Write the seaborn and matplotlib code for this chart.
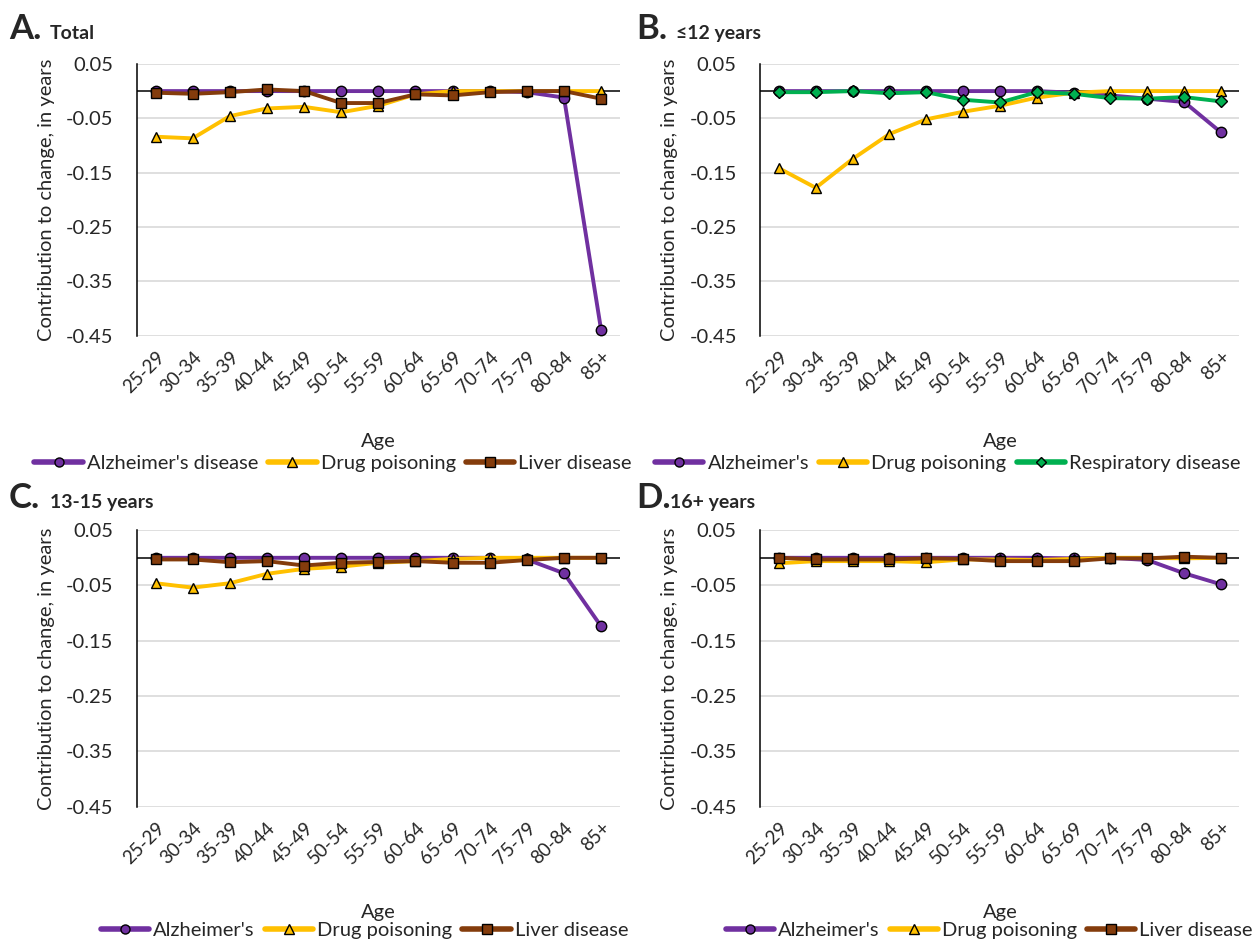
import numpy as np
import pandas as pd
import seaborn as sns
import matplotlib
matplotlib.use('Agg')
import matplotlib.pyplot as plt
from matplotlib.lines import Line2D

ages = ['25-29', '30-34', '35-39', '40-44', '45-49', '50-54', '55-59',
        '60-64', '65-69', '70-74', '75-79', '80-84', '85+']

# A. Total
a_alz = [0, 0, 0, 0, 0, 0, 0, 0, 0, 0, -0.002, -0.012, -0.44]
a_drug = [-0.084, -0.087, -0.046, -0.032, -0.029, -0.039, -0.027,
          -0.006, 0, 0, 0, 0, 0]
a_liver = [-0.003, -0.005, -0.002, 0.003, 0, -0.022, -0.022,
           -0.006, -0.008, -0.002, 0, 0, -0.014]

# B. <=12 years
b_alz = [0, 0, 0, 0, 0, 0, 0, 0, -0.003, -0.008, -0.014, -0.020, -0.076]
b_drug = [-0.142, -0.178, -0.125, -0.079, -0.052, -0.038, -0.027,
          -0.012, -0.003, 0, 0, 0, 0]
b_resp = [-0.002, -0.002, 0, -0.004, -0.002, -0.016, -0.021,
          -0.002, -0.005, -0.013, -0.014, -0.011, -0.019]

# C. 13-15 years
c_alz = [0, 0, 0, 0, 0, 0, 0, 0, 0, 0, -0.003, -0.028, -0.124]
c_drug = [-0.046, -0.054, -0.046, -0.029, -0.020, -0.016, -0.009,
          -0.006, -0.002, 0, 0, 0, 0]
c_liver = [-0.003, -0.003, -0.008, -0.006, -0.014, -0.009, -0.0075,
           -0.006, -0.009, -0.009, -0.004, 0, 0]

# D. 16+ years
d_alz = [0, 0, 0, 0, 0, 0, 0, 0, -0.001, 0, -0.004, -0.028, -0.048]
d_drug = [-0.010, -0.006, -0.006, -0.006, -0.008, -0.003, -0.003,
          -0.004, -0.002, 0, 0, -0.001, 0]
d_liver = [0, -0.003, -0.003, -0.003, -0.001, -0.002, -0.006,
           -0.006, -0.006, -0.001, -0.001, 0.002, 0]

yticks = [0.05, -0.05, -0.15, -0.25, -0.35, -0.45]

PURPLE = '#7030A0'
GOLD = '#FFC000'
BROWN = '#843C0C'
GREEN = '#00B050'

sns.set_style('white')
plt.rcParams['font.family'] = ['Lato', 'DejaVu Sans']

fig = plt.figure(figsize=(12.57, 9.40), dpi=100)

panels = [
    # letter, subtitle, rect, series, legend center, letter pos, subtitle pos
    ('A.', 'Total', [0.109, 0.643, 0.384, 0.289],
     [("Alzheimer's disease", a_alz, PURPLE, 'o'),
      ('Drug poisoning', a_drug, GOLD, '^'),
      ('Liver disease', a_liver, BROWN, 's')],
     (0.265, 0.507), (9, 39), (50, 39)),
    ('B.', '\u226412 years', [0.605, 0.643, 0.381, 0.289],
     [("Alzheimer's", b_alz, PURPLE, 'o'),
      ('Drug poisoning', b_drug, GOLD, '^'),
      ('Respiratory disease', b_resp, GREEN, 'D')],
     (0.754, 0.507), (636, 39), (676, 39)),
    ('C.', '13-15 years', [0.109, 0.142, 0.384, 0.294],
     [("Alzheimer's", c_alz, PURPLE, 'o'),
      ('Drug poisoning', c_drug, GOLD, '^'),
      ('Liver disease', c_liver, BROWN, 's')],
     (0.290, 0.010), (9, 508), (50, 508)),
    ('D.', '16+ years', [0.605, 0.142, 0.381, 0.294],
     [("Alzheimer's", d_alz, PURPLE, 'o'),
      ('Drug poisoning', d_drug, GOLD, '^'),
      ('Liver disease', d_liver, BROWN, 's')],
     (0.787, 0.010), (636, 508), (670, 508)),
]

W, H = 1257, 940

for letter, sub, rect, series, leg_xy, let_pos, sub_pos in panels:
    ax = fig.add_axes(rect)
    handles = []
    for name, vals, col, mk in series:
        df = pd.DataFrame({'Age': ages, 'val': vals})
        ms = 6 if mk == 'D' else 7.5
        sns.lineplot(data=df, x='Age', y='val', sort=False, ax=ax,
                     color=col, lw=2.8, marker=mk, markersize=ms,
                     markeredgecolor='black', markeredgewidth=1.0,
                     markerfacecolor=col)
        handles.append(Line2D([], [], color=col, lw=4, marker=mk,
                              markersize=6.5 if mk != 'D' else 5,
                              markerfacecolor=col, markeredgecolor='black',
                              markeredgewidth=1.0, label=name))
    ax.axhline(0, color='black', lw=1.1, zorder=1)
    ax.set_ylim(-0.45, 0.05)
    ax.set_xlim(-0.5, len(ages) - 0.5)
    ax.set_yticks(yticks)
    ax.set_yticklabels(['%.2f' % t for t in yticks], fontsize=14.5)
    ax.yaxis.grid(True, color='#d9d9d9', lw=1.2)
    ax.set_axisbelow(True)
    ax.tick_params(axis='y', length=0, pad=17)
    ax.tick_params(axis='x', length=0, pad=9)
    ax.set_xticks(range(len(ages)))
    ax.set_xticklabels(ages, rotation=45, ha='right', rotation_mode='anchor',
                       fontsize=13.5)
    for s in ['top', 'right', 'bottom']:
        ax.spines[s].set_visible(False)
    ax.spines['left'].set_color('black')
    ax.spines['left'].set_linewidth(1.1)
    ax.set_xlabel('Age', fontsize=14.5, labelpad=27)
    ax.set_ylabel('Contribution to change, in years', fontsize=14.5, labelpad=8)
    fig.text(let_pos[0] / W, 1 - let_pos[1] / H, letter, fontsize=25,
             fontweight='bold')
    fig.text(sub_pos[0] / W, 1 - sub_pos[1] / H, sub, fontsize=14,
             fontweight='bold')
    fig.legend(handles=handles, loc='center', bbox_to_anchor=leg_xy,
               ncol=3, frameon=False, fontsize=14.5, handlelength=2.4,
               handletextpad=0.2, columnspacing=0.5, borderaxespad=0)

fig.savefig('out.png', dpi=100)
